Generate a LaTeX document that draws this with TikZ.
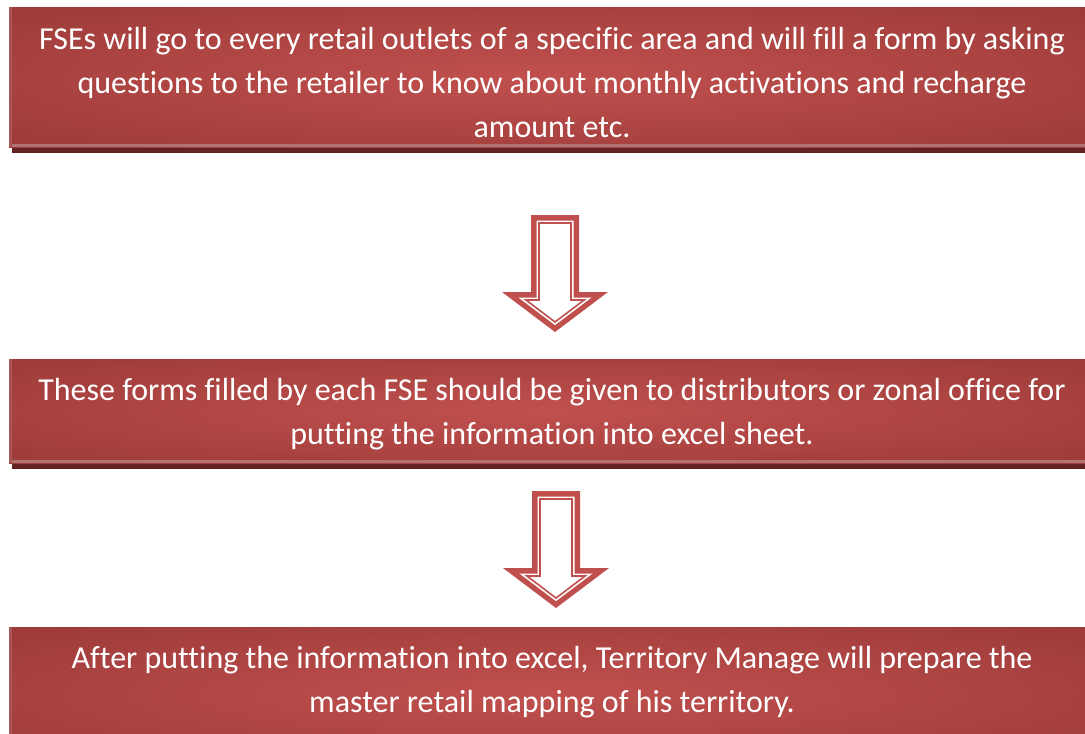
\documentclass[tikz,border=0pt]{standalone}
\usepackage{fontspec}
\setmainfont[Ligatures=NoCommon]{Carlito}
\definecolor{boxdark}{RGB}{141,50,48}
\definecolor{boxlight}{RGB}{192,80,78}
\definecolor{edgelight}{RGB}{166,86,84}
\definecolor{bevelc}{RGB}{180,114,112}
\definecolor{shadowc}{RGB}{98,35,34}
\definecolor{arrowred}{RGB}{192,80,77}
\pgfdeclareradialshading{boxshade}{\pgfpoint{0bp}{0bp}}{color(0bp)=(boxlight); color(8bp)=(boxlight!85!boxdark); color(50bp)=(boxdark); color(75bp)=(boxdark)}
\tikzset{
  boxfill/.style={shading=boxshade},
  txt/.style={text=white, align=center, inner sep=0pt, font=\fontsize{32}{44}\selectfont},
  arrowpic/.pic={
    \fill[arrowred] (-24,0) -- (24,0) -- (24,77) -- (53,77) -- (0,117) -- (-53,77) -- (-24,77) -- cycle;
    \fill[white] (-18.5,5.5) -- (18.5,5.5) -- (18.5,82.5) -- (36.6,82.5) -- (0,110.1) -- (-36.6,82.5) -- (-18.5,82.5) -- cycle;
    \draw[arrowred, line width=1.6pt, fill=white] (-16,8) -- (16,8) -- (16,85) -- (29.1,85) -- (0,107) -- (-29.1,85) -- (-16,85) -- cycle;
  }
}
\newcommand\drawbox[2]{%
  \fill[shadowc] (12,#2) rectangle (1085,#2+6);
  \shade[boxfill] (9,#1) rectangle (1085,#2);
  \fill[edgelight] (9,#1) rectangle (12,#2);
  \fill[bevelc] (12,#2-3) rectangle (1085,#2);
}
\begin{document}
\begin{tikzpicture}[x=1pt, y=-1pt]
\useasboundingbox (0,0) rectangle (1085,734);
\drawbox{7}{147}
\drawbox{359}{463}
\shade[boxfill] (9,627) rectangle (1085,760);
\fill[edgelight] (9,627) rectangle (12,734);
\node[txt] (box1) at (552,82.8) {FSEs will go to every retail outlets of a specific area and will fill a form by asking\\questions to the retailer to know about monthly activations and recharge\\amount etc.};
\node[txt] (box2) at (552,413.8) {These forms filled by each FSE should be given to distributors or zonal office for\\putting the information into excel sheet.};
\node[txt] (box3) at (552,681.8) {After putting the information into excel, Territory Manage will prepare the\\master retail mapping of his territory.};
\pic at (555,215) {arrowpic};
\pic at (556,491) {arrowpic};
\end{tikzpicture}
\end{document}
